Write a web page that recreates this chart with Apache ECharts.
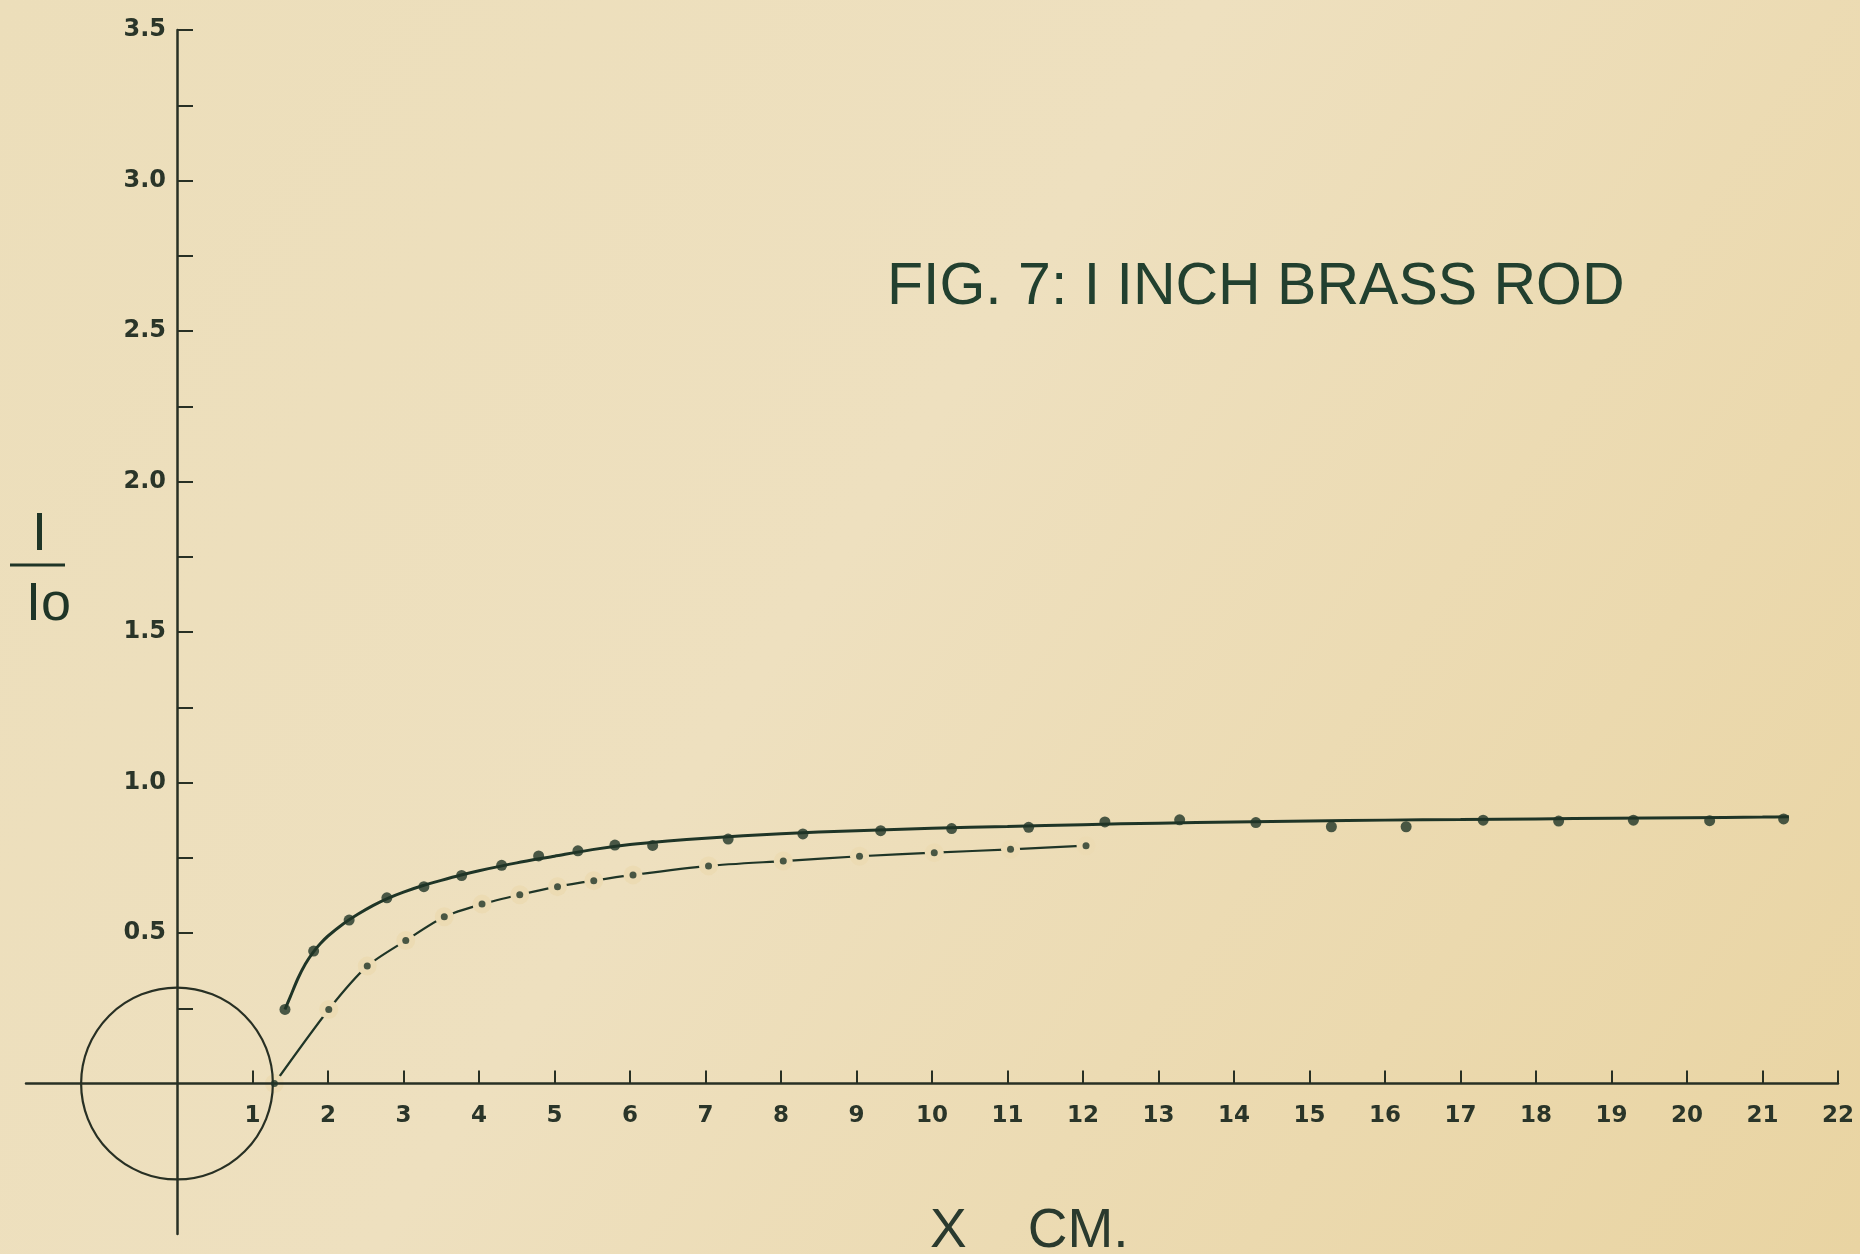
<!DOCTYPE html>
<html>
<head>
<meta charset="utf-8">
<script src="https://cdn.jsdelivr.net/npm/echarts@6/dist/echarts.min.js"></script>
<style>
  html, body { margin: 0; padding: 0; background: #ecdcb6; }
  #chart { width: 1860px; height: 1254px; }
</style>
</head>
<body>
<div id="chart"></div>
<script>
// ---- data ----
// measured points (large dots) on the solid curve
const solidX = [1.43, 1.81, 2.28, 2.78, 3.27, 3.77, 4.30, 4.79, 5.31, 5.80, 6.30, 7.30, 8.29, 9.32, 10.26, 11.28, 12.29, 13.28, 14.29, 15.29, 16.28, 17.30, 18.30, 19.29, 20.30, 21.28];
const solidY = [0.246, 0.440, 0.543, 0.617, 0.654, 0.691, 0.725, 0.756, 0.773, 0.792, 0.791, 0.812, 0.829, 0.840, 0.847, 0.851, 0.869, 0.876, 0.867, 0.853, 0.853, 0.875, 0.872, 0.875, 0.873, 0.879];
// hand-drawn smooth curve through the large dots
const fitX = [1.43, 1.5, 1.6, 1.7, 1.8, 1.9, 2.0, 2.2, 2.4, 2.6, 2.8, 3.0, 3.25, 3.5, 3.75, 4.0, 4.5, 5.0, 5.5, 6.0, 6.5, 7.0, 8.0, 9.0, 10, 11, 12, 13, 14, 15, 16, 17, 18, 19, 20, 21, 21.35];
const fitY = [0.246, 0.288, 0.348, 0.397, 0.435, 0.465, 0.490, 0.530, 0.563, 0.592, 0.616, 0.636, 0.657, 0.675, 0.692, 0.707, 0.733, 0.755, 0.777, 0.794, 0.806, 0.815, 0.830, 0.840, 0.848, 0.854, 0.860, 0.865, 0.869, 0.872, 0.875, 0.877, 0.879, 0.881, 0.883, 0.885, 0.886];
// dash-dot curve with small dots
const dashX = [1.29, 2.01, 2.52, 3.03, 3.54, 4.04, 4.54, 5.04, 5.52, 6.04, 7.04, 8.03, 9.04, 10.03, 11.04, 12.04];
const dashY = [0, 0.246, 0.390, 0.475, 0.554, 0.596, 0.627, 0.654, 0.674, 0.693, 0.723, 0.739, 0.755, 0.767, 0.778, 0.790];
// rod cross-section (1 inch diameter) centred at origin, radius in cm
const rodCenter = [0, 0];
const rodRadius = 1.27;
// ticks and labels
const xTicks = [1,2,3,4,5,6,7,8,9,10,11,12,13,14,15,16,17,18,19,20,21,22];
const yTicks = [0.25,0.5,0.75,1.0,1.25,1.5,1.75,2.0,2.25,2.5,2.75,3.0,3.25,3.5];
const yLabels = [0.5,1.0,1.5,2.0,2.5,3.0,3.5];
const titleText = 'FIG. 7: I INCH BRASS ROD';
const xName = 'X    CM.';
const yNameTop = 'I';
const yNameBottom = 'Io';

// ---- styling ----
const ink = '#1f3527';
const axisInk = '#283024';
const paper = '#ecdbb3';

const zip = (xs, ys) => xs.map((x, i) => [x, ys[i]]);

const GRID = { left: 26, right: 22, top: 30, bottom: 20 };
const W = 1860, H = 1254;
// place axis lines at the data zero (x=0 / y=0) by offsetting them from the grid edges
const xMin = -2, xMax = 22, yMin = -0.5, yMax = 3.5;
const plotW = W - GRID.left - GRID.right, plotH = H - GRID.top - GRID.bottom;
const yAxisOffset = -(0 - xMin) / (xMax - xMin) * plotW;
const xAxisOffset = -(0 - yMin) / (yMax - yMin) * plotH;

const chart = echarts.init(document.getElementById('chart'), null, { renderer: 'canvas' });
chart.setOption({
  animation: false,
  backgroundColor: {
    type: 'linear', x: 0, y: 0, x2: 1, y2: 1,
    colorStops: [
      { offset: 0, color: '#ecdeba' },
      { offset: 0.45, color: '#eee0bf' },
      { offset: 1, color: '#e9d4a2' }
    ]
  },
  grid: Object.assign({ containLabel: false, outerBoundsMode: 'none' }, GRID),
  xAxis: {
    type: 'value', min: xMin, max: xMax, interval: 1, z: 6,
    position: 'bottom', offset: xAxisOffset,
    axisLine: { onZero: false, lineStyle: { color: axisInk, width: 2.5 } },
    axisTick: { inside: true, length: 13, customValues: xTicks, lineStyle: { color: axisInk, width: 2 } },
    axisLabel: {
      customValues: xTicks, margin: 21, color: '#2a3529',
      fontFamily: 'DejaVu Sans', fontWeight: 'bold', fontSize: 23,
      formatter: v => String(v)
    },
    splitLine: { show: false }
  },
  yAxis: {
    type: 'value', min: yMin, max: yMax, interval: 0.25, z: 6,
    position: 'left', offset: yAxisOffset,
    axisLine: { onZero: false, lineStyle: { color: axisInk, width: 2.5 } },
    axisTick: { inside: true, length: 16, customValues: yTicks, lineStyle: { color: axisInk, width: 2 } },
    axisLabel: {
      customValues: yLabels, margin: 11, color: '#2a3529',
      fontFamily: 'DejaVu Sans', fontWeight: 'bold', fontSize: 24,
      formatter: v => Number(v).toFixed(1)
    },
    splitLine: { show: false }
  },
  series: [
    {
      name: 'rod', type: 'custom', z: 7,
      data: [[rodCenter[0], rodCenter[1], rodRadius]],
      renderItem: (params, api) => {
        const c = api.coord([api.value(0), api.value(1)]);
        const r = api.size([api.value(2), 0])[0];
        return {
          type: 'circle',
          shape: { cx: c[0], cy: c[1], r: r },
          style: { fill: 'none', stroke: axisInk, lineWidth: 2.2 }
        };
      },
      silent: true
    },
    {
      name: 'fit', type: 'line', z: 3,
      data: zip(fitX, fitY),
      smooth: 0.25,
      showSymbol: false, symbol: 'none',
      lineStyle: { color: ink, width: 3 }
    },
    {
      name: 'measured', type: 'scatter', z: 4,
      data: zip(solidX, solidY),
      symbol: 'circle', symbolSize: 11,
      itemStyle: { color: ink }
    },
    {
      name: 'dashdot', type: 'line', z: 3,
      data: zip(dashX, dashY),
      smooth: 0.25,
      showSymbol: true, symbol: 'circle', symbolSize: 19,
      itemStyle: { color: paper, borderWidth: 0 },
      lineStyle: { color: ink, width: 2.2 }
    },
    {
      name: 'dashdotDots', type: 'scatter', z: 8,
      data: zip(dashX, dashY),
      symbol: 'circle', symbolSize: 7,
      itemStyle: { color: ink }
    }
  ],
  graphic: [
    {
      type: 'text', left: 887, top: 258, z: 10,
      style: { text: titleText, fill: '#22402f', font: '59px "Liberation Sans", Arial, sans-serif' }
    },
    {
      type: 'text', left: 930, top: 1204, z: 10,
      style: { text: xName, fill: '#2a3a2e', font: '55px "Liberation Sans", Arial, sans-serif' }
    },
    {
      type: 'text', left: 32, top: 508, z: 10,
      style: { text: yNameTop, fill: ink, font: '54px "Liberation Sans", Arial, sans-serif' }
    },
    {
      type: 'line', z: 10,
      shape: { x1: 10, y1: 565, x2: 65, y2: 565 },
      style: { stroke: ink, lineWidth: 3 }
    },
    {
      type: 'text', left: 26, top: 578, z: 10,
      style: { text: yNameBottom, fill: ink, font: '54px "Liberation Sans", Arial, sans-serif' }
    }
  ]
});
</script>
</body>
</html>
